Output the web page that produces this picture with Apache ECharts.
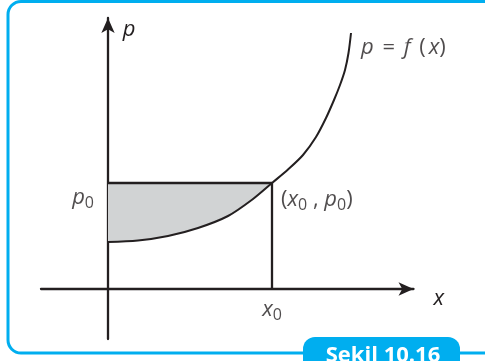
<!DOCTYPE html>
<html><head><meta charset="utf-8">
<script src="https://cdn.jsdelivr.net/npm/echarts@6/dist/echarts.min.js"></script>
<style>html,body{margin:0;padding:0;background:#fff}#c{width:485px;height:361px}</style>
</head><body><div id="c"></div>
<script>
// Curve p = f(x) (arbitrary units, origin at axes crossing)
const curveX = [0, 30, 60, 90, 120, 145, 164, 180, 195, 208, 218, 226, 232, 237, 240.5, 243];
const curveP = [47, 48.5, 53, 61, 73, 90, 106, 119.5, 134, 152, 171, 189, 204, 219, 236, 256];
const x0 = 164;
const p0 = 106;
const xRange = [-67, 305.5];
const pRange = [-50, 271];
const xName = 'x';
const pName = 'p';
const figureLabel = 'Şekil 10.16';

const INK = '#231f20';
const BLUE = '#00aeef';
const FONT = 'Open Sans';

const curveData = curveX.map((x, i) => [x, curveP[i]]);
const shadeCurve = curveData.filter(d => d[0] <= x0);

const rich = {
  i: {fontFamily: FONT, fontStyle: 'italic', fontSize: 22, color: INK},
  n: {fontFamily: FONT, fontSize: 22, color: INK},
  w: {fontFamily: FONT, fontSize: 22, color: INK, padding: [0, 3, 0, 3]},
  s: {fontFamily: FONT, fontSize: 16, color: INK, padding: [10, 0, 0, 0]}
};

const labelPoints = [
  {value: [0, p0], text: '{i|p}{s|0}', pos: 'left', dist: 14, off: [0, 15]},
  {value: [x0, p0], text: '{n|(}{i|x}{s|0}{n| , }{i|p}{s|0}{n|)}', pos: 'right', dist: 9, off: [0, 17]},
  {value: [x0, 0], text: '{i|x}{s|0}', pos: 'bottom', dist: 8, off: [0, 0]},
  {value: curveData[curveData.length - 1], text: '{i|p}{w| = }{i|f}{w| (}{i|x}{n|)}', pos: 'right', dist: 10, off: [0, 15]}
];

const chart = echarts.init(document.getElementById('c'), null, {renderer: 'canvas'});
chart.setOption({
  animation: false,
  backgroundColor: '#fff',
  grid: {left: 41, right: 71.5, top: 18, bottom: 22, containLabel: false},
  xAxis: {
    type: 'value', min: xRange[0], max: xRange[1],
    axisLine: {show: true, onZero: true, symbol: ['none', 'arrow'], symbolSize: [10, 15],
      lineStyle: {color: INK, width: 2.3}},
    axisTick: {show: false}, axisLabel: {show: false}, splitLine: {show: false},
    name: xName, nameLocation: 'end', nameGap: 20,
    nameTextStyle: {fontFamily: FONT, fontStyle: 'italic', fontSize: 22, color: INK, verticalAlign: 'top', lineHeight: 20}
  },
  yAxis: {
    type: 'value', min: pRange[0], max: pRange[1],
    axisLine: {show: true, onZero: true, symbol: ['none', 'arrow'], symbolSize: [10, 15],
      lineStyle: {color: INK, width: 2.3}},
    axisTick: {show: false}, axisLabel: {show: false}, splitLine: {show: false},
    name: pName, nameLocation: 'end', nameGap: -23,
    nameTextStyle: {fontFamily: FONT, fontStyle: 'italic', fontSize: 22, color: INK, padding: [0, 0, 0, 42]}
  },
  graphic: [
    {type: 'rect', z: -10, silent: true,
      shape: {x: 8, y: 1.5, width: 520, height: 351.5, r: 13},
      style: {fill: 'none', stroke: BLUE, lineWidth: 3}},
    {type: 'rect', z: 10, silent: true,
      shape: {x: 303, y: 337, width: 157, height: 40, r: 12},
      style: {fill: BLUE}},
    {type: 'text', z: 11, silent: true, x: 383, y: 356,
      style: {text: figureLabel, fill: '#fff', font: 'bold 22px "Open Sans"', align: 'center', verticalAlign: 'middle'}}
  ],
  series: [
    {
      type: 'custom', z: 1, silent: true, data: [0],
      renderItem: (params, api) => {
        const pts = [api.coord([0, p0]), api.coord([x0, p0])];
        for (let i = shadeCurve.length - 1; i >= 0; i--) pts.push(api.coord(shadeCurve[i]));
        return {type: 'polygon', shape: {points: pts}, style: {fill: '#d1d3d4', stroke: 'none'}};
      }
    },
    {type: 'line', z: 3, data: curveData, smooth: 0.3, showSymbol: false, symbol: 'none',
      lineStyle: {color: INK, width: 2}},
    {type: 'line', z: 3, data: [[0, p0], [x0, p0]], showSymbol: false, symbol: 'none',
      lineStyle: {color: INK, width: 2.3}},
    {type: 'line', z: 3, data: [[x0, 0], [x0, p0]], showSymbol: false, symbol: 'none',
      lineStyle: {color: INK, width: 2.3}},
    {type: 'scatter', z: 5, symbolSize: 0, silent: true,
      data: labelPoints.map(p => ({
        value: p.value,
        label: {show: true, formatter: p.text, position: p.pos, distance: p.dist, offset: p.off, rich: rich}
      }))}
  ]
});
</script></body></html>
